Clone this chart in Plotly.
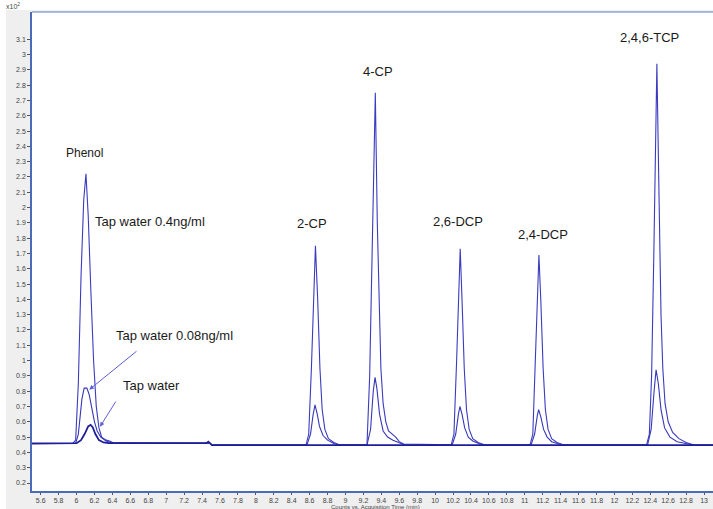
import plotly.graph_objects as go

# ---------------- data ----------------
# Retention time (min) / signal (x10^2 counts) for the three chromatograms
x_04 = [5.503, 5.96, 5.99, 6.02, 6.05, 6.08, 6.105, 6.13, 6.16, 6.19, 6.22, 6.25, 6.28, 6.33, 6.37, 6.42, 7.49, 7.51,
        8.56, 8.59, 8.62, 8.645, 8.665, 8.69, 8.715, 8.74, 8.77, 8.81, 8.87, 8.93,
        9.24, 9.27, 9.30, 9.333, 9.355, 9.375, 9.395, 9.42, 9.45, 9.48, 9.52, 9.56, 9.6, 9.65,
        10.18, 10.21, 10.24, 10.262, 10.28, 10.3, 10.325, 10.35, 10.38, 10.42, 10.48, 10.55,
        11.06, 11.09, 11.12, 11.14, 11.158, 11.18, 11.205, 11.23, 11.26, 11.3, 11.36, 11.43,
        12.36, 12.39, 12.415, 12.44, 12.474, 12.5, 12.52, 12.54, 12.565, 12.6, 12.65, 12.72, 12.8, 12.88, 13.1]
y_04 = [0.458, 0.46, 0.48, 0.85, 1.55, 2.05, 2.22, 1.95, 1.45, 1.0, 0.7, 0.56, 0.5, 0.48, 0.475, 0.46, 0.46, 0.448,
        0.448, 0.52, 0.95, 1.45, 1.75, 1.4, 0.95, 0.68, 0.55, 0.49, 0.465, 0.45,
        0.45, 0.9, 1.85, 2.75, 1.9, 1.35, 0.95, 0.72, 0.6, 0.54, 0.52, 0.5, 0.47, 0.455,
        0.45, 0.52, 1.0, 1.45, 1.73, 1.4, 0.95, 0.68, 0.55, 0.49, 0.465, 0.45,
        0.45, 0.52, 1.0, 1.42, 1.69, 1.38, 0.95, 0.68, 0.55, 0.49, 0.465, 0.45,
        0.45, 0.52, 0.9, 1.7, 2.94, 2.0, 1.3, 0.95, 0.72, 0.6, 0.53, 0.49, 0.465, 0.45, 0.448]

x_008 = [5.503, 5.99, 6.02, 6.045, 6.06, 6.085, 6.115, 6.14, 6.17, 6.2, 6.23, 6.27, 6.33, 6.4, 7.49, 7.51,
         8.57, 8.61, 8.64, 8.66, 8.685, 8.71, 8.75, 8.8, 8.87, 8.93,
         9.24, 9.28, 9.31, 9.33, 9.35, 9.38, 9.42, 9.47, 9.53, 9.6, 9.66,
         10.19, 10.23, 10.26, 10.277, 10.3, 10.33, 10.37, 10.42, 10.5, 10.55,
         11.07, 11.11, 11.14, 11.155, 11.18, 11.21, 11.25, 11.3, 11.38, 11.43,
         12.37, 12.41, 12.44, 12.465, 12.49, 12.52, 12.56, 12.62, 12.7, 12.8, 12.88, 13.1]
y_008 = [0.458, 0.46, 0.52, 0.68, 0.75, 0.82, 0.82, 0.78, 0.68, 0.6, 0.54, 0.5, 0.475, 0.462, 0.46, 0.448,
         0.448, 0.52, 0.65, 0.71, 0.65, 0.57, 0.51, 0.48, 0.458, 0.448,
         0.448, 0.55, 0.8, 0.89, 0.82, 0.65, 0.54, 0.5, 0.48, 0.46, 0.448,
         0.448, 0.52, 0.65, 0.7, 0.65, 0.56, 0.5, 0.475, 0.455, 0.448,
         0.448, 0.52, 0.64, 0.68, 0.63, 0.55, 0.5, 0.47, 0.455, 0.448,
         0.448, 0.55, 0.78, 0.94, 0.85, 0.68, 0.56, 0.5, 0.47, 0.455, 0.448, 0.448]

x_blank = [5.503, 6.0, 6.05, 6.09, 6.13, 6.157, 6.18, 6.21, 6.25, 6.3, 6.36, 7.45, 7.47, 7.49, 7.51, 13.1]
y_blank = [0.458, 0.46, 0.48, 0.52, 0.57, 0.58, 0.565, 0.52, 0.48, 0.465, 0.46, 0.46, 0.47, 0.46, 0.448, 0.448]

peak_labels = ["Phenol", "2-CP", "4-CP", "2,6-DCP", "2,4-DCP", "2,4,6-TCP"]
sample_labels = ["Tap water 0.4ng/ml", "Tap water 0.08ng/ml", "Tap water"]

x_ticks = [5.6, 5.8, 6, 6.2, 6.4, 6.6, 6.8, 7, 7.2, 7.4, 7.6, 7.8, 8, 8.2, 8.4, 8.6, 8.8, 9,
           9.2, 9.4, 9.6, 9.8, 10, 10.2, 10.4, 10.6, 10.8, 11, 11.2, 11.4, 11.6, 11.8, 12,
           12.2, 12.4, 12.6, 12.8, 13]
x_tick_text = ["5.6", "5.8", "6", "6.2", "6.4", "6.6", "6.8", "7", "7.2", "7.4", "7.6", "7.8", "8",
               "8.2", "8.4", "8.6", "8.8", "9", "9.2", "9.4", "9.6", "9.8", "10", "10.2", "10.4",
               "10.6", "10.8", "11", "11.2", "11.4", "11.6", "11.8", "12", "12.2", "12.4", "12.6",
               "12.8", "13"]
y_ticks = [0.2, 0.3, 0.4, 0.5, 0.6, 0.7, 0.8, 0.9, 1, 1.1, 1.2, 1.3, 1.4, 1.5, 1.6, 1.7, 1.8, 1.9,
           2, 2.1, 2.2, 2.3, 2.4, 2.5, 2.6, 2.7, 2.8, 2.9, 3, 3.1]
y_tick_text = ["0.2", "0.3", "0.4", "0.5", "0.6", "0.7", "0.8", "0.9", "1", "1.1", "1.2", "1.3",
               "1.4", "1.5", "1.6", "1.7", "1.8", "1.9", "2", "2.1", "2.2", "2.3", "2.4", "2.5",
               "2.6", "2.7", "2.8", "2.9", "3", "3.1"]

assert len(x_04) == len(y_04) and len(x_008) == len(y_008) and len(x_blank) == len(y_blank)

# ---------------- figure ----------------
FONT = "Liberation Sans, Arial, sans-serif"
fig = go.Figure()
fig.add_trace(go.Scatter(x=x_04, y=y_04, mode="lines", name=sample_labels[0],
                         line=dict(color="#3b3bbf", width=1.1)))
fig.add_trace(go.Scatter(x=x_008, y=y_008, mode="lines", name=sample_labels[1],
                         line=dict(color="#3737b8", width=1.1)))
fig.add_trace(go.Scatter(x=x_blank, y=y_blank, mode="lines", name=sample_labels[2],
                         line=dict(color="#1e1e9a", width=1.8)))

annotations = []
label_pos = [(6.087, 2.357, 12), (8.628, 1.899, 13), (9.364, 2.886, 13),
             (10.257, 1.906, 13), (11.2, 1.827, 13), (12.389, 3.112, 13)]
for txt, (lx, ly, fs) in zip(peak_labels, label_pos):
    annotations.append(dict(x=lx, y=ly, xref="x", yref="y", text=txt, showarrow=False,
                            font=dict(family=FONT, size=fs, color="#1a1a1a")))
sample_pos = [(6.814, 1.912), (7.088, 1.167), (6.837, 0.834)]
for txt, (lx, ly) in zip(sample_labels, sample_pos):
    annotations.append(dict(x=lx, y=ly, xref="x", yref="y", text=txt, showarrow=False,
                            font=dict(family=FONT, size=13, color="#1a1a1a")))
# arrows
for hx, hy, tx, ty in [(6.142, 0.81, 6.686, 1.069), (6.262, 0.568, 6.448, 0.742)]:
    annotations.append(dict(x=hx, y=hy, ax=tx, ay=ty, xref="x", yref="y", axref="x", ayref="y",
                            text="", showarrow=True, arrowhead=2, arrowsize=0.9, arrowwidth=1,
                            arrowcolor="#5c5cd6"))
# multiplier and axis title
annotations.append(dict(x=-0.028, y=1.0, xref="paper", yref="paper", xanchor="center",
                        yanchor="bottom", text="x10<sup>2</sup>", showarrow=False,
                        font=dict(family=FONT, size=7, color="#444")))
annotations.append(dict(x=(375 - 32) / 681, y=-0.0335, xref="paper", yref="paper",
                        xanchor="center", yanchor="middle",
                        text="Counts vs. Acquisition Time (min)", showarrow=False,
                        font=dict(family=FONT, size=6, color="#444")))

shapes = [
    # white strips at the very top and left of the grey panel
    dict(type="rect", xref="paper", yref="paper", x0=-0.06, x1=1.01, y0=1.0042, y1=1.03,
         fillcolor="white", line=dict(width=0), layer="below"),
    dict(type="rect", xref="paper", yref="paper", x0=-0.06, x1=-0.0382, y0=-0.05, y1=1.03,
         fillcolor="white", line=dict(width=0), layer="below"),
    dict(type="line", xref="paper", yref="paper", x0=0, x1=1, y0=1, y1=1,
         line=dict(color="#5b7cc4", width=1)),
]

fig.update_layout(
    width=713, height=509,
    margin=dict(l=32, r=0, t=12, b=18),
    paper_bgcolor="#efefef", plot_bgcolor="white",
    showlegend=False,
    annotations=annotations, shapes=shapes,
    font=dict(family=FONT),
    xaxis=dict(range=[5.503, 13.1], tickvals=x_ticks, ticktext=x_tick_text,
               showline=True, linecolor="#4a6cb8", linewidth=2,
               ticks="outside", ticklen=2, tickcolor="#555", tickwidth=1,
               tickfont=dict(family=FONT, size=7, color="#444"),
               showgrid=False, zeroline=False),
    yaxis=dict(range=[0.1477, 3.278], tickvals=y_ticks, ticktext=y_tick_text,
               showline=True, linecolor="#4a6cb8", linewidth=1.5,
               ticks="outside", ticklen=3, tickcolor="#555", tickwidth=1,
               tickfont=dict(family=FONT, size=7, color="#444"),
               showgrid=False, zeroline=False),
)

fig.write_html("out.html", config={"displayModeBar": False},
               post_script="document.body.style.margin='0';")
